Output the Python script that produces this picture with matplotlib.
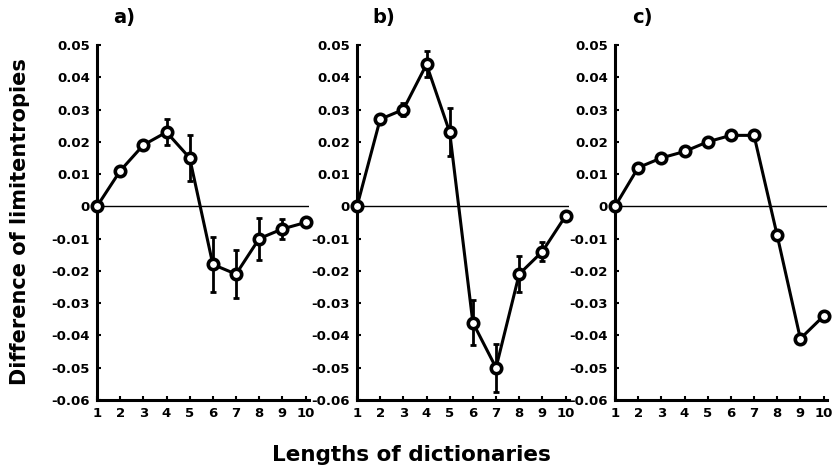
import numpy as np
import matplotlib
matplotlib.use('Agg')
import matplotlib.pyplot as plt

# dictionary lengths
lengths = [1, 2, 3, 4, 5, 6, 7, 8, 9, 10]

# panel a
diff_a = [0, 0.011, 0.019, 0.023, 0.015, -0.018, -0.021, -0.010, -0.007, -0.005]
err_a = [0, 0, 0, 0.004, 0.007, 0.0085, 0.0075, 0.0065, 0.003, 0]

# panel b
diff_b = [0, 0.027, 0.030, 0.044, 0.023, -0.036, -0.050, -0.021, -0.014, -0.003]
err_b = [0, 0, 0.002, 0.004, 0.0075, 0.007, 0.0075, 0.0055, 0.003, 0]

# panel c (no error bars)
diff_c = [0, 0.012, 0.015, 0.017, 0.020, 0.022, 0.022, -0.009, -0.041, -0.034]

yticks = [0.05, 0.04, 0.03, 0.02, 0.01, 0, -0.01, -0.02, -0.03, -0.04, -0.05, -0.06]
ytick_labels = ['0.05', '0.04', '0.03', '0.02', '0.01', '0', '-0.01', '-0.02',
                '-0.03', '-0.04', '-0.05', '-0.06']
panel_names = ['a)', 'b)', 'c)']

plt.rcParams['font.family'] = ['DejaVu Sans']
plt.rcParams['font.weight'] = 'bold'

fig = plt.figure(figsize=(8.33, 4.72), dpi=100)

lefts = [97, 357, 615]
bottom = 1 - 400 / 472
height = (400 - 45) / 472
width = 212 / 833

data = [(diff_a, err_a), (diff_b, err_b), (diff_c, None)]
for i, (vals, errs) in enumerate(data):
    ax = fig.add_axes([lefts[i] / 833, bottom, width, height])
    ax.axhline(0, color='black', lw=1.0, zorder=1)
    if errs is not None:
        ax.errorbar(lengths, vals, yerr=errs, fmt='none', ecolor='black',
                    elinewidth=2, capsize=2, capthick=2, zorder=2)
    ax.plot(lengths, vals, color='black', lw=2.2, marker='o', ms=7.5,
            mfc='white', mec='black', mew=2.6, zorder=3, clip_on=False)
    ax.set_xlim(1, 10.15)
    ax.set_ylim(-0.06, 0.05)
    ax.set_xticks(lengths)
    ax.set_xticklabels([str(v) for v in lengths], fontsize=9.5, fontweight='bold')
    ax.set_yticks(yticks)
    ax.set_yticklabels(ytick_labels, fontsize=9.5, fontweight='bold')
    ax.tick_params(direction='in', length=3, width=1.5, pad=5)
    for side in ['top', 'right']:
        ax.spines[side].set_visible(False)
    for side in ['left', 'bottom']:
        ax.spines[side].set_linewidth(2.2)
    fig.text((lefts[i] + 27) / 833, 1 - 17 / 472, panel_names[i],
             fontsize=14, fontweight='bold', ha='center', va='center')

fig.text(20 / 833, 1 - 222 / 472, 'Difference of limitentropies', rotation=90,
         fontsize=15, fontweight='bold', ha='center', va='center')
fig.text(411 / 833, 1 - 455 / 472, 'Lengths of dictionaries',
         fontsize=15.5, fontweight='bold', ha='center', va='center')

fig.savefig('out.png', dpi=100)
